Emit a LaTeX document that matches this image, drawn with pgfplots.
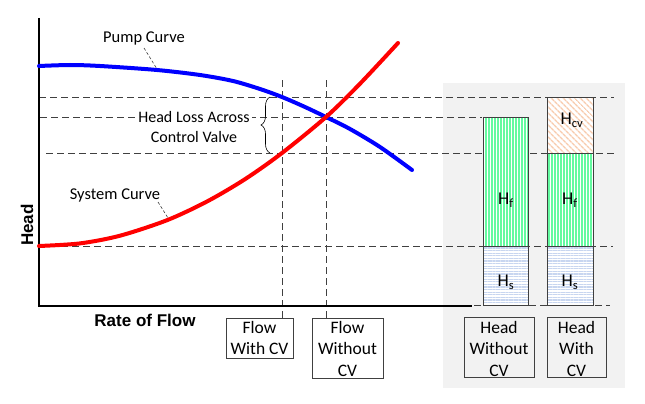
\documentclass[border=0pt]{standalone}
\usepackage{pgfplots}
\pgfplotsset{compat=1.18}
\usepackage{fontspec}
\setmainfont{Carlito}
\newfontfamily\arialfont{Liberation Sans}
\usetikzlibrary{patterns,patterns.meta,decorations.pathreplacing}
\definecolor{dgray}{RGB}{64,64,64}
\definecolor{panel}{RGB}{242,242,242}
\definecolor{hfgreen}{RGB}{100,250,160}
\definecolor{hsblue}{RGB}{200,214,240}
\definecolor{hcvor}{RGB}{248,203,173}
\begin{document}
\begin{tikzpicture}
\begin{axis}[
  width=645pt, height=404pt, scale only axis,
  xmin=0, xmax=645, ymin=0, ymax=404, y dir=reverse,
  hide axis, clip=false,
  dashln/.style={dgray, line width=0.8pt, dash pattern=on 7pt off 4pt},
]
\path (axis cs:0,0) rectangle (axis cs:645,404);
% grey panel
\addplot[fill=panel, draw=none] coordinates {(443,83)(625,83)(625,388)(443,388)} --cycle;
% dashed guide lines
\addplot[dashln] coordinates {(39,97)(614,97)};
\addplot[dashln] coordinates {(40,117)(482,117)};
\addplot[dashln] coordinates {(46,153)(617,153)};
\addplot[dashln] coordinates {(39,246)(613,246)};
\addplot[dashln] coordinates {(474,305)(610,305)};
\addplot[dashln] coordinates {(282,80)(282,318)};
\addplot[dashln] coordinates {(326,80)(326,318)};
% bars
\addplot[draw=dgray, line width=0.8pt, preaction={fill=white}, pattern={Lines[angle=0,distance=2.6pt,line width=1.1pt]}, pattern color=hsblue] coordinates {(483,305)(528,305)(528,246)(483,246)} --cycle;
\addplot[draw=dgray, line width=0.8pt, preaction={fill=white}, pattern={Lines[angle=90,distance=3pt,line width=2pt]}, pattern color=hfgreen] coordinates {(483,246)(528,246)(528,117)(483,117)} --cycle;
\addplot[draw=dgray, line width=0.8pt, preaction={fill=white}, pattern={Lines[angle=0,distance=2.6pt,line width=1.1pt]}, pattern color=hsblue] coordinates {(547,305)(593,305)(593,246)(547,246)} --cycle;
\addplot[draw=dgray, line width=0.8pt, preaction={fill=white}, pattern={Lines[angle=90,distance=3pt,line width=2pt]}, pattern color=hfgreen] coordinates {(547,246)(593,246)(593,153)(547,153)} --cycle;
\addplot[draw=dgray, line width=0.8pt, preaction={fill=white}, pattern={Lines[angle=-45,distance=4pt,line width=1.5pt]}, pattern color=hcvor] coordinates {(547,153)(593,153)(593,97)(547,97)} --cycle;
% axes lines
\addplot[black, line width=2.8pt] coordinates {(39,18)(39,306)(472,306)};
% pump curve
\addplot[blue, line width=4pt, smooth, line cap=round] coordinates {(39,66)(70,65)(100,66)(157,70)(200,75)(233,81)(260,89)(282,97)(305,107)(326,117)(350,129)(380,147)(412,170)};
% system curve
\addplot[red, line width=4pt, smooth, line cap=round] coordinates {(39,246)(80,243.4)(120,235.7)(167,220.2)(207,201.5)(245,179.2)(282,153)(326,117)(360,83.7)(398,43)};
% leaders
\addplot[dgray, line width=0.6pt, dash pattern=on 3pt off 2pt] coordinates {(144,48)(157,69)};
\addplot[dgray, line width=0.6pt, dash pattern=on 3pt off 2pt] coordinates {(158,202)(168,218)};
% brace
\draw[black, line width=0.6pt, decorate, decoration={brace, amplitude=9pt}] (axis cs:270,153) -- (axis cs:270,97);
% texts
\node[font=\fontsize{16.5}{16.5}\selectfont] at (axis cs:144,38) {Pump Curve};
\node[font=\fontsize{16.5}{16.5}\selectfont] at (axis cs:115,195) {System Curve};
\node[font=\fontsize{16}{20}\selectfont, fill=white, align=center, inner sep=2pt] at (axis cs:194,127) {Head Loss Across\\Control Valve};
\node[font=\arialfont\bfseries\fontsize{17}{17}\selectfont] at (axis cs:145,320) {Rate of Flow};
\node[font=\arialfont\bfseries\fontsize{17}{17}\selectfont, rotate=90] at (axis cs:27,225) {Head};
% label boxes
\draw[dgray, line width=0.8pt] (axis cs:226,318) rectangle (axis cs:293,358);
\draw[dgray, line width=0.8pt] (axis cs:312,318) rectangle (axis cs:383,378);
\draw[dgray, line width=0.8pt] (axis cs:464,317) rectangle (axis cs:534,377);
\draw[dgray, line width=0.8pt] (axis cs:547,317) rectangle (axis cs:606,377);
\node[font=\fontsize{17.5}{21.5}\selectfont, align=center, anchor=north, inner sep=0pt] at (axis cs:259.5,321) {Flow\\With CV};
\node[font=\fontsize{17.5}{21.5}\selectfont, align=center, anchor=north, inner sep=0pt] at (axis cs:347.5,321) {Flow\\Without\\CV};
\node[font=\fontsize{17.5}{21.5}\selectfont, align=center, anchor=north, inner sep=0pt] at (axis cs:499,321) {Head\\Without\\CV};
\node[font=\fontsize{17.5}{21.5}\selectfont, align=center, anchor=north, inner sep=0pt] at (axis cs:576.5,321) {Head\\With\\CV};
% bar labels
\node[font=\fontsize{18}{18}\selectfont] at (axis cs:506,200) {H\textsubscript{f}};
\node[font=\fontsize{18}{18}\selectfont] at (axis cs:570,200) {H\textsubscript{f}};
\node[font=\fontsize{18}{18}\selectfont] at (axis cs:506,282) {H\textsubscript{s}};
\node[font=\fontsize{18}{18}\selectfont] at (axis cs:570,282) {H\textsubscript{s}};
\node[font=\fontsize{18}{18}\selectfont] at (axis cs:572,120) {H\textsubscript{cv}};
\end{axis}
\end{tikzpicture}
\end{document}
